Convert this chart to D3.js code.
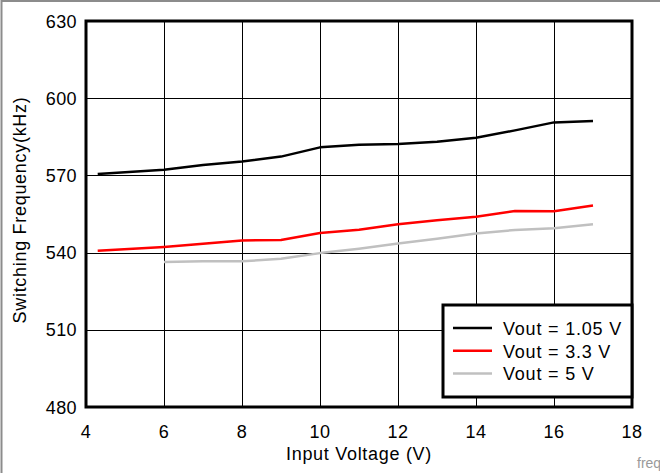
<!DOCTYPE html>
<html>
<head>
<meta charset="utf-8">
<script src="https://cdn.jsdelivr.net/npm/d3@7"></script>
<style>
    body { margin: 0; background: #fff; }
    svg { font-family: "Liberation Sans", Arial, sans-serif; }
    .grid line { stroke: #000; stroke-width: 1; shape-rendering: crispEdges; }
    .tick-label { font-size: 18px; letter-spacing: 0.4px; fill: #000; }
    .title { font-size: 18px; letter-spacing: 0.7px; }
    .series { fill: none; stroke-width: 2.5; stroke-linejoin: round; }
</style>
</head>
<body>
<svg id="chart"></svg>
<script>
// input voltage (V)
const vinA = [4.3, 6, 7, 8, 9, 10, 11, 12, 13, 14, 15, 16, 17];
const vinB = [6, 7, 8, 9, 10, 11, 12, 13, 14, 15, 16, 17];

// switching frequency (kHz)
const fsw105 = [570.5, 572.2, 574.0, 575.4, 577.3, 580.9, 581.9, 582.2, 583.1, 584.6, 587.5, 590.6, 591.1];
const fsw33  = [540.7, 542.2, 543.4, 544.7, 544.9, 547.6, 548.9, 551.0, 552.6, 553.9, 556.2, 556.1, 558.3];
const fsw5   = [536.3, 536.6, 536.6, 537.6, 539.8, 541.5, 543.5, 545.4, 547.4, 548.8, 549.5, 551.0];

const seriesNames = ["Vout = 1.05 V", "Vout = 3.3 V", "Vout = 5 V"];
const seriesColors = ["#000000", "#ff0000", "#c0c0c0"];

const xTicks = [4, 6, 8, 10, 12, 14, 16, 18];
const yTicks = [480, 510, 540, 570, 600, 630];

const W = 660, H = 473;
const margin = { top: 21, right: 28, bottom: 66, left: 86 };

const svg = d3.select("#chart").attr("width", W).attr("height", H);

// outer frame of the picture
svg.append("rect")
    .attr("x", 1.5).attr("y", 1)
    .attr("width", W + 10).attr("height", H + 10)
    .attr("fill", "none").attr("stroke", "#8c8c8c").attr("stroke-width", 2);

const x = d3.scaleLinear().domain([4, 18]).range([margin.left, W - margin.right]);
const y = d3.scaleLinear().domain([480, 630]).range([H - margin.bottom, margin.top]);

const grid = svg.append("g").attr("class", "grid");
grid.selectAll(".vx")
    .data(xTicks.slice(1, -1))
    .enter().append("line")
    .attr("x1", (d) => Math.round(x(d)) + 0.5).attr("x2", (d) => Math.round(x(d)) + 0.5)
    .attr("y1", y(630)).attr("y2", y(480));
grid.selectAll(".hy")
    .data(yTicks.slice(1, -1))
    .enter().append("line")
    .attr("y1", (d) => Math.round(y(d)) + 0.5).attr("y2", (d) => Math.round(y(d)) + 0.5)
    .attr("x1", x(4)).attr("x2", x(18));

// tick labels
svg.append("g").selectAll("text")
    .data(yTicks)
    .enter().append("text")
    .attr("class", "tick-label")
    .attr("x", margin.left - 9)
    .attr("y", (d) => y(d) + 6.5)
    .attr("text-anchor", "end")
    .text((d) => d);

svg.append("g").selectAll("text")
    .data(xTicks)
    .enter().append("text")
    .attr("class", "tick-label")
    .attr("x", (d) => x(d))
    .attr("y", H - margin.bottom + 31)
    .attr("text-anchor", "middle")
    .text((d) => d);

// axis titles
svg.append("text")
    .attr("class", "title")
    .attr("x", (x(4) + x(18)) / 2)
    .attr("y", 459.5)
    .attr("text-anchor", "middle")
    .text("Input Voltage (V)");

svg.append("text")
    .attr("class", "title")
    .attr("transform", "translate(25.5," + ((y(480) + y(630)) / 2 - 4) + ") rotate(-90)")
    .attr("text-anchor", "middle")
    .text("Switching Frequency(kHz)");

// data lines
const line = d3.line()
    .x((d) => x(d[0]))
    .y((d) => y(d[1]));

const series = [
    d3.zip(vinA, fsw105),
    d3.zip(vinA, fsw33),
    d3.zip(vinB, fsw5)
];

svg.selectAll(".series")
    .data(series)
    .enter().append("path")
    .attr("class", "series")
    .attr("stroke", (d, i) => seriesColors[i])
    .attr("d", line);

// plot frame
svg.append("rect")
    .attr("x", x(4)).attr("y", y(630))
    .attr("width", x(18) - x(4)).attr("height", y(480) - y(630))
    .attr("fill", "none").attr("stroke", "#000").attr("stroke-width", 3);

// legend
const lg = svg.append("g").attr("transform", "translate(443,305)");
lg.append("rect")
    .attr("width", x(18) - 443).attr("height", 92)
    .attr("fill", "#fff").attr("stroke", "#000").attr("stroke-width", 3);

const item = lg.selectAll(".item")
    .data(seriesNames)
    .enter().append("g")
    .attr("transform", (d, i) => "translate(0," + (23 + i * 22.7) + ")");
item.append("line")
    .attr("x1", 10).attr("x2", 49)
    .attr("stroke", (d, i) => seriesColors[i])
    .attr("stroke-width", 2.5);
item.append("text")
    .attr("x", 60).attr("y", 7)
    .style("font-size", "18px")
    .style("letter-spacing", "0.8px")
    .text((d) => d);

// file tag, cut by the right edge
svg.append("text")
    .attr("x", 637).attr("y", 468)
    .attr("fill", "#9a9a9a")
    .style("font-size", "14px")
    .text("freq");
</script>
</body>
</html>
